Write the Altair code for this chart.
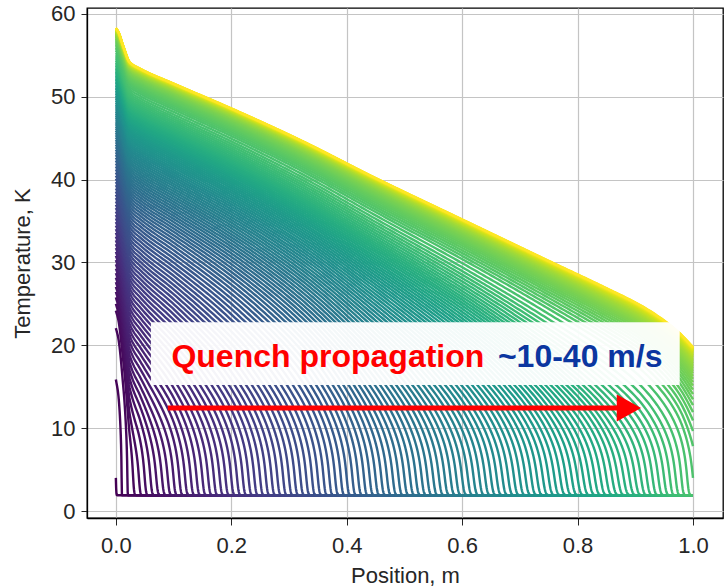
import numpy as np
import pandas as pd
import altair as alt

# ---- values ----
# hottest (last) temperature profile, read along the top edge of the bundle
final_x = [0.0, 0.004, 0.013, 0.024, 0.042, 0.10, 0.20, 0.319, 0.45, 0.60, 0.75, 0.85, 0.91, 0.95, 0.975, 1.0]
final_T = [58.3, 57.9, 56.1, 54.2, 53.4, 51.6, 48.6, 44.8, 40.2, 35.2, 30.2, 26.9, 24.8, 23.0, 21.6, 19.8]

front_step = 0.01          # m between successive snapshots
n_fronts = 101             # fronts at 0.00 ... 1.00 m
n_after = 39               # snapshots after the front has left the 1 m conductor
after_decay = 0.93         # shrinking heating step of those late snapshots
base_T = 1.9               # bath temperature, K

x_ticks = [0.0, 0.2, 0.4, 0.6, 0.8, 1.0]
y_ticks = [0, 10, 20, 30, 40, 50, 60]


def pchip(xk, yk, xq):
    xk = np.asarray(xk, float)
    yk = np.asarray(yk, float)
    xq = np.asarray(xq, float)
    h = np.diff(xk)
    d = np.diff(yk) / h
    m = np.zeros_like(yk)
    for i in range(1, len(xk) - 1):
        if d[i - 1] * d[i] > 0:
            w1 = 2 * h[i] + h[i - 1]
            w2 = h[i] + 2 * h[i - 1]
            m[i] = (w1 + w2) / (w1 / d[i - 1] + w2 / d[i])
    m[0] = d[0]
    m[-1] = d[-1]
    idx = np.clip(np.searchsorted(xk, xq) - 1, 0, len(xk) - 2)
    t = (xq - xk[idx]) / h[idx]
    h00 = 2 * t**3 - 3 * t**2 + 1
    h10 = t**3 - 2 * t**2 + t
    h01 = -2 * t**3 + 3 * t**2
    h11 = t**3 - t**2
    return h00 * yk[idx] + h10 * h[idx] * m[idx] + h01 * yk[idx + 1] + h11 * h[idx] * m[idx + 1]


A2 = 100.0   # heat-content shape parameter
W = 3.0      # front rounding


def G(T):
    T2 = np.asarray(T, float) ** 2
    return T2 * T2 / (T2 + A2)


def Ginv(g):
    g = np.maximum(g, 0)
    return np.sqrt((g + np.sqrt(g * g + 4 * g * A2)) / 2)


Gb = G(base_T)
fronts = [round(front_step * i, 4) for i in range(n_fronts)]
D = [float(G(pchip(final_x, final_T, [xf]))[0] - Gb) for xf in fronts]
steps = after_decay ** np.arange(1, n_after + 1)
cum = np.cumsum(steps) / steps.sum()
D += [float(D[-1] * (1 - c)) for c in cum]
N = len(D)

base_grid = np.concatenate([np.arange(0, 0.05, 0.001), np.arange(0.05, 1.0, 0.004), [1.0]])
rows = []
for k in range(N):
    xf = fronts[k] if k < n_fronts else 2.0
    fine = np.arange(max(0, xf - 0.03), min(1.0, xf + 0.012), 0.0005)
    xs = np.unique(np.round(np.concatenate([base_grid, fine]), 5))
    xs = xs[(xs <= xf + 0.012) | (xs >= 1.0)]
    gf = G(pchip(final_x, final_T, xs))
    g = Gb + W * np.logaddexp(0, (gf - D[k] - Gb) / W)
    T = Ginv(g)
    for xv, tv in zip(xs, T):
        rows.append((round(float(xv), 5), round(float(tv), 3), k))

df = pd.DataFrame(rows, columns=["x", "T", "k"])

xscale = alt.Scale(domain=[-0.05, 1.052], nice=False, zero=False)
yscale = alt.Scale(domain=[-0.845, 60.72], nice=False, zero=False)

lines = alt.Chart(df).mark_line(strokeWidth=2.4, clip=True).encode(
    x=alt.X("x:Q", scale=xscale,
            axis=alt.Axis(values=x_ticks, format=".1f", title="Position, m",
                          titleX=318, titleY=57, titleBaseline="middle",
                          tickSize=7, labelPadding=10)),
    y=alt.Y("T:Q", scale=yscale,
            axis=alt.Axis(values=y_ticks, format="d", title="Temperature, K",
                          titleX=-65, titleY=255, titleAngle=-90, titleAlign="center",
                          titleBaseline="middle", tickSize=6, labelPadding=6)),
    color=alt.Color("k:Q", scale=alt.Scale(scheme="viridis", domain=[0, N - 1]), legend=None),
    order="x:Q",
)

one = pd.DataFrame({"a": [0]})
box = alt.Chart(one).mark_rect(color="white", opacity=0.95).encode(
    x=alt.datum(0.0607), x2=alt.datum(0.977), y=alt.datum(22.8), y2=alt.datum(15.2)
)
txt1 = alt.Chart(one).mark_text(
    text="Quench propagation", font="Liberation Sans", fontSize=32, fontWeight="bold",
    color="#ff0000", align="left", baseline="alphabetic"
).encode(x=alt.datum(0.0963), y=alt.datum(17.4))
txt2 = alt.Chart(one).mark_text(
    text="~10-40 m/s", font="Liberation Sans", fontSize=32, fontWeight="bold",
    color="#0b36a0", align="left", baseline="alphabetic"
).encode(x=alt.datum(0.662), y=alt.datum(17.4))
arrow = alt.Chart(one).mark_rule(color="#ff0000", strokeWidth=5).encode(
    x=alt.datum(0.090), x2=alt.datum(0.870), y=alt.datum(12.43)
)
head = alt.Chart(one).mark_point(
    shape="M-0.9,-1L0.9,0L-0.9,1Z", filled=True, size=729, color="#ff0000", opacity=1
).encode(x=alt.datum(0.889), y=alt.datum(12.43))

chart = alt.layer(lines, box, txt1, txt2, arrow, head).properties(
    width=636, height=510,
    autosize=alt.AutoSizeParams(type="none"),
    padding={"left": 87, "top": 8, "right": 4, "bottom": 69},
    background="white",
).configure_view(stroke="black", strokeWidth=1.3).configure_axis(
    labelFont="Liberation Sans", labelFontSize=22, labelColor="#262626",
    titleFont="Liberation Sans", titleFontSize=22, titleFontWeight="normal", titleColor="#262626",
    tickColor="#262626", domainColor="black", domainWidth=1.3,
    gridColor="#c4c4c4", gridWidth=1.2,
)

chart.save("out.html", embed_options={"renderer": "svg", "actions": False})
